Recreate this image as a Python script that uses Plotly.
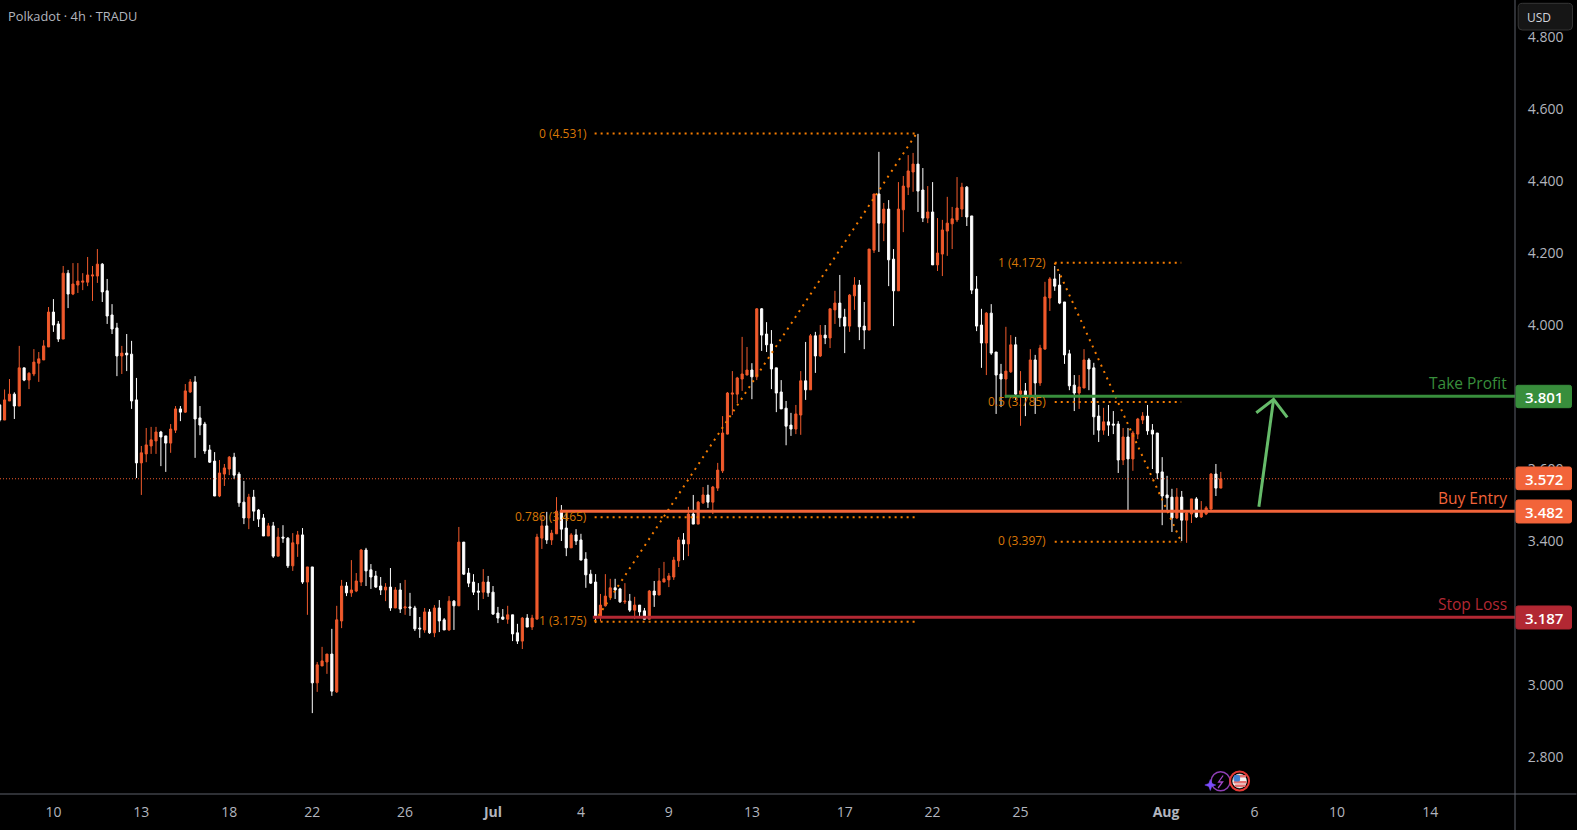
"""Polkadot 4h candles with the long setup levels, dark chart style."""

import plotly.graph_objects as go

# ---------- data ----------

bar_open = [
    3.777, 3.735, 3.788, 3.807, 3.774, 3.880, 3.846, 3.863, 3.893, 3.902,
    3.938, 4.035, 4.002, 3.960, 4.143, 4.085, 4.110, 4.118, 4.118, 4.135,
    4.135, 4.168, 4.094, 4.027, 3.991, 3.913, 3.921, 3.918, 3.791, 3.616,
    3.641, 3.663, 3.677, 3.702, 3.691, 3.671, 3.707, 3.766, 3.757, 3.813,
    3.841, 3.741, 3.724, 3.652, 3.621, 3.524, 3.585, 3.599, 3.632, 3.585,
    3.507, 3.463, 3.521, 3.485, 3.463, 3.413, 3.441, 3.357, 3.410, 3.407,
    3.330, 3.391, 3.416, 3.285, 3.327, 3.005, 3.052, 3.063, 3.085, 2.980,
    3.177, 3.274, 3.255, 3.260, 3.285, 3.374, 3.319, 3.302, 3.274, 3.263,
    3.271, 3.213, 3.263, 3.213, 3.216, 3.213, 3.157, 3.152, 3.202, 3.144,
    3.213, 3.180, 3.152, 3.232, 3.219, 3.396, 3.310, 3.285, 3.260, 3.257,
    3.285, 3.257, 3.199, 3.188, 3.182, 3.194, 3.144, 3.121, 3.185, 3.160,
    3.182, 3.407, 3.441, 3.402, 3.419, 3.480, 3.435, 3.380, 3.416, 3.402,
    3.349, 3.307, 3.285, 3.189, 3.219, 3.244, 3.269, 3.266, 3.230, 3.232,
    3.207, 3.221, 3.205, 3.182, 3.260, 3.249, 3.285, 3.291, 3.299, 3.344,
    3.402, 3.391, 3.474, 3.446, 3.505, 3.527, 3.507, 3.546, 3.594, 3.696,
    3.807, 3.807, 3.849, 3.860, 3.874, 3.855, 4.044, 3.974, 3.946, 3.880,
    3.813, 3.768, 3.721, 3.710, 3.749, 3.844, 3.819, 3.969, 3.913, 3.971,
    3.963, 4.041, 4.060, 4.021, 3.996, 4.080, 4.110, 3.996, 3.985, 4.207,
    4.363, 4.282, 4.321, 4.182, 4.094, 4.319, 4.382, 4.424, 4.446, 4.374,
    4.296, 4.313, 4.166, 4.196, 4.260, 4.280, 4.291, 4.321, 4.382, 4.302,
    4.099, 3.999, 3.949, 4.032, 3.924, 3.863, 3.849, 3.869, 3.944, 3.807,
    3.816, 3.802, 3.902, 3.838, 3.932, 4.074, 4.127, 4.110, 4.063, 3.919,
    3.832, 3.810, 3.824, 3.902, 3.880, 3.746, 3.707, 3.730, 3.724, 3.724,
    3.624, 3.688, 3.627, 3.696, 3.735, 3.746, 3.707, 3.699, 3.591, 3.527,
    3.521, 3.463, 3.521, 3.457, 3.474, 3.516, 3.466, 3.474, 3.488, 3.585, 3.546,
]
bar_high = [
    3.780, 3.820, 3.849, 3.812, 3.941, 3.880, 3.868, 3.932, 3.924, 3.957,
    4.049, 4.071, 4.010, 4.163, 4.152, 4.171, 4.171, 4.143, 4.188, 4.163,
    4.210, 4.171, 4.127, 4.057, 4.005, 3.941, 3.974, 3.955, 3.852, 3.663,
    3.713, 3.716, 3.716, 3.705, 3.691, 3.724, 3.774, 3.774, 3.835, 3.849,
    3.857, 3.774, 3.730, 3.666, 3.646, 3.624, 3.613, 3.635, 3.644, 3.591,
    3.566, 3.530, 3.541, 3.488, 3.474, 3.449, 3.452, 3.435, 3.443, 3.410,
    3.421, 3.427, 3.435, 3.327, 3.327, 3.063, 3.105, 3.085, 3.155, 3.219,
    3.291, 3.285, 3.346, 3.310, 3.377, 3.380, 3.335, 3.316, 3.299, 3.282,
    3.324, 3.271, 3.282, 3.291, 3.255, 3.219, 3.188, 3.213, 3.210, 3.221,
    3.235, 3.185, 3.246, 3.235, 3.438, 3.396, 3.324, 3.307, 3.282, 3.321,
    3.302, 3.274, 3.216, 3.210, 3.219, 3.194, 3.169, 3.188, 3.196, 3.194,
    3.419, 3.469, 3.480, 3.430, 3.521, 3.499, 3.482, 3.421, 3.432, 3.419,
    3.368, 3.319, 3.307, 3.252, 3.307, 3.294, 3.294, 3.269, 3.282, 3.252,
    3.244, 3.221, 3.213, 3.263, 3.288, 3.324, 3.341, 3.310, 3.355, 3.410,
    3.421, 3.494, 3.527, 3.510, 3.549, 3.555, 3.552, 3.616, 3.746, 3.813,
    3.871, 3.855, 3.966, 3.938, 3.893, 4.046, 4.046, 4.007, 3.985, 3.880,
    3.846, 3.788, 3.755, 3.777, 3.871, 3.952, 3.974, 3.980, 3.999, 3.999,
    4.044, 4.094, 4.138, 4.044, 4.085, 4.132, 4.124, 4.063, 4.210, 4.363,
    4.480, 4.338, 4.346, 4.210, 4.396, 4.413, 4.471, 4.477, 4.530, 4.435,
    4.385, 4.396, 4.296, 4.291, 4.355, 4.327, 4.410, 4.394, 4.385, 4.302,
    4.135, 4.044, 4.035, 4.057, 3.924, 3.891, 3.994, 3.971, 3.966, 3.871,
    3.838, 3.932, 3.916, 3.944, 4.119, 4.132, 4.163, 4.141, 4.063, 3.930,
    3.860, 3.860, 3.932, 3.907, 3.894, 3.777, 3.769, 3.777, 3.760, 3.732,
    3.713, 3.713, 3.705, 3.741, 3.757, 3.777, 3.724, 3.699, 3.632, 3.580,
    3.544, 3.546, 3.538, 3.485, 3.516, 3.521, 3.510, 3.496, 3.588, 3.613, 3.591,
]
bar_low = [
    3.730, 3.735, 3.788, 3.738, 3.774, 3.843, 3.821, 3.857, 3.841, 3.902,
    3.938, 3.980, 3.952, 3.960, 4.046, 4.082, 4.088, 4.096, 4.107, 4.066,
    4.116, 4.063, 4.002, 3.974, 3.857, 3.863, 3.871, 3.766, 3.574, 3.527,
    3.618, 3.641, 3.641, 3.607, 3.591, 3.644, 3.699, 3.732, 3.755, 3.810,
    3.630, 3.693, 3.641, 3.616, 3.524, 3.521, 3.552, 3.582, 3.571, 3.494,
    3.446, 3.432, 3.455, 3.438, 3.413, 3.413, 3.352, 3.357, 3.394, 3.324,
    3.316, 3.355, 3.280, 3.194, 2.921, 2.980, 3.052, 3.030, 2.969, 2.977,
    3.157, 3.246, 3.244, 3.257, 3.274, 3.274, 3.266, 3.269, 3.249, 3.232,
    3.205, 3.213, 3.199, 3.194, 3.191, 3.149, 3.130, 3.144, 3.141, 3.132,
    3.146, 3.152, 3.149, 3.152, 3.219, 3.305, 3.271, 3.249, 3.207, 3.238,
    3.244, 3.194, 3.171, 3.180, 3.169, 3.121, 3.113, 3.099, 3.160, 3.152,
    3.182, 3.377, 3.391, 3.388, 3.419, 3.399, 3.357, 3.380, 3.388, 3.346,
    3.269, 3.280, 3.171, 3.176, 3.217, 3.235, 3.238, 3.227, 3.224, 3.202,
    3.182, 3.188, 3.182, 3.182, 3.216, 3.249, 3.285, 3.271, 3.291, 3.327,
    3.346, 3.357, 3.446, 3.446, 3.502, 3.491, 3.474, 3.538, 3.588, 3.695,
    3.749, 3.782, 3.816, 3.860, 3.793, 3.846, 3.927, 3.924, 3.821, 3.757,
    3.766, 3.665, 3.691, 3.696, 3.694, 3.791, 3.819, 3.866, 3.910, 3.946,
    3.935, 4.002, 3.994, 3.921, 3.980, 4.041, 3.957, 3.932, 3.985, 4.199,
    4.202, 4.232, 4.107, 3.996, 4.094, 4.257, 4.360, 4.369, 4.313, 4.285,
    4.282, 4.166, 4.149, 4.135, 4.191, 4.210, 4.285, 4.299, 4.274, 4.085,
    3.982, 3.880, 3.860, 3.916, 3.752, 3.771, 3.796, 3.866, 3.791, 3.719,
    3.746, 3.802, 3.752, 3.830, 3.932, 4.038, 4.094, 4.057, 3.891, 3.818,
    3.760, 3.766, 3.824, 3.818, 3.694, 3.674, 3.694, 3.691, 3.696, 3.588,
    3.610, 3.485, 3.594, 3.682, 3.724, 3.694, 3.599, 3.571, 3.443, 3.480,
    3.424, 3.460, 3.399, 3.394, 3.449, 3.463, 3.463, 3.471, 3.485, 3.524, 3.546,
]
bar_close = [
    3.735, 3.791, 3.807, 3.774, 3.880, 3.846, 3.865, 3.896, 3.905, 3.941,
    4.035, 3.999, 3.960, 4.143, 4.085, 4.113, 4.121, 4.121, 4.138, 4.138,
    4.168, 4.091, 4.024, 3.988, 3.913, 3.921, 3.916, 3.788, 3.616, 3.644,
    3.666, 3.680, 3.702, 3.688, 3.671, 3.710, 3.766, 3.757, 3.816, 3.841,
    3.738, 3.721, 3.649, 3.618, 3.524, 3.588, 3.602, 3.632, 3.582, 3.505,
    3.463, 3.521, 3.482, 3.460, 3.413, 3.441, 3.357, 3.410, 3.407, 3.330,
    3.394, 3.416, 3.285, 3.327, 3.005, 3.055, 3.066, 3.085, 2.982, 3.180,
    3.274, 3.255, 3.263, 3.288, 3.374, 3.316, 3.299, 3.271, 3.263, 3.271,
    3.213, 3.263, 3.210, 3.216, 3.213, 3.155, 3.155, 3.202, 3.144, 3.213,
    3.177, 3.152, 3.232, 3.219, 3.396, 3.307, 3.282, 3.257, 3.257, 3.285,
    3.255, 3.196, 3.185, 3.182, 3.194, 3.141, 3.121, 3.185, 3.160, 3.185,
    3.410, 3.441, 3.402, 3.421, 3.482, 3.432, 3.380, 3.416, 3.399, 3.346,
    3.305, 3.282, 3.191, 3.221, 3.246, 3.269, 3.263, 3.230, 3.232, 3.207,
    3.221, 3.202, 3.182, 3.260, 3.249, 3.288, 3.294, 3.302, 3.346, 3.402,
    3.391, 3.474, 3.446, 3.507, 3.527, 3.507, 3.549, 3.596, 3.699, 3.810,
    3.810, 3.852, 3.863, 3.874, 3.855, 4.044, 3.971, 3.944, 3.877, 3.810,
    3.766, 3.718, 3.710, 3.752, 3.844, 3.819, 3.969, 3.913, 3.971, 3.963,
    4.044, 4.060, 4.019, 3.996, 4.082, 4.110, 3.994, 3.985, 4.210, 4.363,
    4.282, 4.321, 4.180, 4.094, 4.321, 4.385, 4.427, 4.446, 4.371, 4.296,
    4.313, 4.166, 4.199, 4.263, 4.282, 4.294, 4.324, 4.382, 4.299, 4.096,
    3.996, 3.949, 4.032, 3.921, 3.860, 3.849, 3.871, 3.944, 3.807, 3.816,
    3.802, 3.902, 3.838, 3.935, 4.077, 4.127, 4.107, 4.060, 3.916, 3.830,
    3.810, 3.827, 3.902, 3.877, 3.744, 3.707, 3.730, 3.721, 3.721, 3.624,
    3.688, 3.627, 3.699, 3.738, 3.746, 3.705, 3.696, 3.588, 3.524, 3.519,
    3.463, 3.521, 3.457, 3.477, 3.516, 3.466, 3.482, 3.491, 3.585, 3.546, 3.572,
]

x_tick_pos = [11, 29, 47, 64, 83, 101, 119, 137, 154, 173, 191, 209, 238.8, 256.9, 273.8, 292.9]
x_tick_text = ["10", "13", "18", "22", "26", "<b>Jul</b>", "4", "9", "13", "17", "22", "25",
               "<b>Aug</b>", "6", "10", "14"]
# 3.200 and 3.800 sit fully behind the price tags, so they are left out
y_ticks = [2.8, 3.0, 3.4, 3.6, 4.0, 4.2, 4.4, 4.6, 4.8]

take_profit = 3.801
buy_entry = 3.482
stop_loss = 3.187
last_price = 3.572

fib_up_levels = [("0 (4.531)", 4.531), ("0.786 (3.465)", 3.465), ("1 (3.175)", 3.175)]
fib_down_levels = [("1 (4.172)", 4.172), ("0.5 (3.785)", 3.785), ("0 (3.397)", 3.397)]

# ---------- layout constants ----------

WIDTH, HEIGHT = 1577, 830
PLOT_W, PLOT_H = 1515.5, 794
BAR_PX = 4.886
BAR0_PX = -0.3
Y_RANGE = [2.6963, 4.9018]

FONT = "Open Sans"
ORANGE = "#F05A2C"
ENTRY = "#F2643A"
GREEN = "#388E3C"
RED = "#B22833"
FIB = "#F57C00"
FIB_TEXT = "#D97706"
AXIS_TEXT = "#B2B5BE"
AXIS_LINE = "#5D606B"


def idx(px):
    return (px - BAR0_PX) / BAR_PX


def fx(px):
    return px / PLOT_W


def fy(py):
    return 1 - py / PLOT_H


def pixel_line(x0, y0, x1, y1, color, width=1.0):
    return dict(type="line", xref="paper", yref="paper", x0=fx(x0), y0=fy(y0), x1=fx(x1), y1=fy(y1),
                line=dict(color=color, width=width), layer="above")


def pixel_circle(cx, cy, r, line_color, fill="rgba(0,0,0,0)", width=1.5):
    return dict(type="circle", xref="paper", yref="paper", x0=fx(cx - r), y0=fy(cy + r), x1=fx(cx + r),
                y1=fy(cy - r), line=dict(color=line_color, width=width), fillcolor=fill, layer="above")


def pixel_box(x0, y0, x1, y1, color, border=None, r=2):
    # rounded rectangle, drawn as an svg path in paper space
    w, h = PLOT_W, PLOT_H

    def pt(x, y):
        return f"{x / w:.6f},{1 - y / h:.6f}"

    path = (
        f"M{pt(x0 + r, y0)} L{pt(x1 - r, y0)} Q{pt(x1, y0)} {pt(x1, y0 + r)} L{pt(x1, y1 - r)} "
        f"Q{pt(x1, y1)} {pt(x1 - r, y1)} L{pt(x0 + r, y1)} Q{pt(x0, y1)} {pt(x0, y1 - r)} "
        f"L{pt(x0, y0 + r)} Q{pt(x0, y0)} {pt(x0 + r, y0)} Z"
    )
    return dict(type="path", xref="paper", yref="paper", path=path, fillcolor=color,
                line=dict(color=border or color, width=1), layer="above")


def pixel_poly(points, color, fill=None, width=1.5):
    path = "M" + " L".join(f"{fx(x):.6f},{fy(y):.6f}" for x, y in points)
    if fill:
        path += " Z"
    return dict(type="path", xref="paper", yref="paper", path=path, fillcolor=fill or "rgba(0,0,0,0)",
                line=dict(color=color, width=width), layer="above")


def level_line(x0, x1, y, color, width=3, dash="solid"):
    return dict(type="line", xref="x", yref="y", x0=x0, x1=x1, y0=y, y1=y,
                line=dict(color=color, width=width, dash=dash), layer="above")


def text_at(px, py, text, color, size=12, anchor="right", weight=400):
    return dict(xref="paper", yref="paper", x=fx(px), y=fy(py), text=text, showarrow=False,
                xanchor=anchor, yanchor="middle", borderpad=0, borderwidth=0,
                font=dict(family=FONT, size=size, color=color, weight=weight))


x_index = list(range(len(bar_close)))
x_end = idx(PLOT_W)

fig = go.Figure(
    go.Candlestick(
        x=x_index,
        open=bar_open,
        high=bar_high,
        low=bar_low,
        close=bar_close,
        whiskerwidth=0,
        increasing=dict(line=dict(color=ORANGE, width=1), fillcolor=ORANGE),
        decreasing=dict(line=dict(color="#FFFFFF", width=1), fillcolor="#FFFFFF"),
        showlegend=False,
    )
)

shapes = [
    # last price
    level_line(idx(0), x_end, last_price, ORANGE, width=1.2, dash="1px,2px"),
    # fib retracement, rising leg
    *[level_line(121.8, 187.7, v, FIB, width=2, dash="2px,4px") for _, v in fib_up_levels],
    dict(type="line", xref="x", yref="y", x0=121.8, y0=3.175, x1=187.7, y1=4.531,
         line=dict(color=FIB, width=2, dash="2px,5px"), layer="above"),
    # fib retracement, falling leg
    *[level_line(216, 241.9, v, FIB, width=2, dash="2px,4px") for _, v in fib_down_levels],
    dict(type="line", xref="x", yref="y", x0=216, y0=4.172, x1=241.9, y1=3.397,
         line=dict(color=FIB, width=2, dash="2px,5px"), layer="above"),
    # trade levels
    level_line(idx(1005), x_end, take_profit, GREEN),
    level_line(idx(560), x_end, buy_entry, ENTRY),
    level_line(idx(593), x_end, stop_loss, RED),
    # axis frame
    pixel_line(PLOT_W, 0, PLOT_W, HEIGHT, AXIS_LINE),
    pixel_line(0, PLOT_H, WIDTH, PLOT_H, AXIS_LINE),
    # arrow to the target
    pixel_poly([(1259.3, 506.7), (1274, 399.3)], "#66BB6A", width=3),
    pixel_poly([(1256.7, 412.7), (1274, 399.3), (1287.7, 417.3)], "#66BB6A", width=3),
    # price tags
    pixel_box(1516.5, 385.3, 1572, 407.7, GREEN),
    pixel_box(1516.5, 467, 1572, 489.7, ENTRY),
    pixel_box(1516.5, 500, 1572, 523, ENTRY),
    pixel_box(1516.5, 606, 1572, 629, RED),
    # currency button
    pixel_box(1518.7, 3.3, 1573, 30, "#161616", border="#363636", r=4),
    # event icons
    pixel_circle(1221, 781.3, 9.5, "#8E3FB5"),
    pixel_poly([(1223.5, 775.5), (1219, 782), (1223, 782), (1218.5, 788)], "#A347C9", width=1.3),
    pixel_poly([(1210.7, 779.5), (1212.2, 783.5), (1216.2, 785), (1212.2, 786.5), (1210.7, 790.5),
                (1209.2, 786.5), (1205.2, 785), (1209.2, 783.5)], "#7C4DFF", fill="#7C4DFF", width=0.5),
    pixel_circle(1240, 781, 9.5, "#E53935", fill="#000000", width=2),
    pixel_circle(1240, 781, 7, "#F5F5F5", fill="#F5F5F5", width=0.5),
    pixel_box(1234.5, 781.5, 1246.5, 783, "#E57373", r=0),
    pixel_box(1235.5, 785, 1245.5, 786.5, "#E57373", r=0),
    pixel_box(1238, 775.5, 1246, 777, "#E57373", r=0),
    pixel_box(1234.5, 775.5, 1240, 781, "#3F7FD0", r=1),
]

annotations = [
    text_at(8, 16, "Polkadot · 4h · TRADU", AXIS_TEXT, size=12.8, anchor="left"),
    text_at(1528, 17, "USD", "#D1D4DC", size=12, anchor="left"),
    text_at(586.7, 134, "0 (4.531)", FIB_TEXT),
    text_at(586.7, 516.7, "0.786 (3.465)", FIB_TEXT),
    text_at(586.7, 620.7, "1 (3.175)", FIB_TEXT),
    text_at(1046.7, 262.7, "1 (4.172)", FIB_TEXT),
    text_at(1046.7, 401.7, "0.5 (3.785)", FIB_TEXT),
    text_at(1046.7, 540.7, "0 (3.397)", FIB_TEXT),
    text_at(1507, 382.7, "Take Profit", GREEN, size=15.5, weight=500),
    text_at(1507, 497.7, "Buy Entry", ENTRY, size=15.5, weight=500),
    text_at(1507, 604, "Stop Loss", RED, size=15.5, weight=500),
    text_at(1545, 396.5, "3.801", "#FFFFFF", size=15, anchor="center", weight=600),
    text_at(1545, 478.5, "3.572", "#FFFFFF", size=15, anchor="center", weight=600),
    text_at(1545, 511.5, "3.482", "#FFFFFF", size=15, anchor="center", weight=600),
    text_at(1545, 617.5, "3.187", "#FFFFFF", size=15, anchor="center", weight=600),
]

fig.update_layout(
    width=WIDTH,
    height=HEIGHT,
    margin=dict(l=0, r=WIDTH - PLOT_W, t=0, b=HEIGHT - PLOT_H, pad=0),
    paper_bgcolor="#000000",
    plot_bgcolor="#000000",
    font=dict(family=FONT, color=AXIS_TEXT, size=14),
    shapes=shapes,
    annotations=annotations,
    showlegend=False,
    boxgap=0.38,
)
fig.update_xaxes(
    range=[idx(0), x_end],
    rangeslider_visible=False,
    tickmode="array",
    tickvals=x_tick_pos,
    ticktext=x_tick_text,
    showgrid=False,
    zeroline=False,
    showline=False,
    ticks="outside",
    ticklen=5,
    tickcolor="rgba(0,0,0,0)",
    tickfont=dict(family=FONT, size=14, color=AXIS_TEXT),
)
fig.update_yaxes(
    range=Y_RANGE,
    side="right",
    tickmode="array",
    tickvals=y_ticks,
    ticktext=[f"{v:.3f}" for v in y_ticks],
    showgrid=False,
    zeroline=False,
    showline=False,
    ticks="outside",
    ticklen=9,
    tickcolor="rgba(0,0,0,0)",
    tickfont=dict(family=FONT, size=14, color=AXIS_TEXT),
)

fig.write_html(
    "out.html",
    config={"displayModeBar": False},
    post_script="document.body.style.margin='0';document.body.style.background='#000';"
    "document.documentElement.style.overflow='hidden';",
)
